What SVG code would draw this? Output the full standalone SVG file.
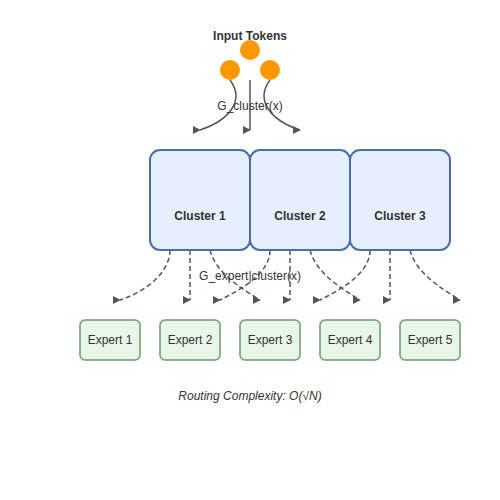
<svg xmlns="http://www.w3.org/2000/svg" width="500" height="500" viewBox="0 0 500 500">
<defs>
<marker id="arr" viewBox="0 0 10 10" refX="9" refY="5" markerWidth="8" markerHeight="8" markerUnits="userSpaceOnUse" orient="0">
<path d="M0,0 L10,5 L0,10 z" fill="#555"/>
</marker>
<style>
text{font-family:"Liberation Sans",Arial,sans-serif;font-size:12px;fill:#333;}
.bold{font-weight:bold;}
.tok{fill:#ff9800;}
.cl{fill:#e5effd;stroke:#4a6ea9;stroke-width:2;}
.ex{fill:#e8f5e9;stroke:#6b9b6e;stroke-width:1.5;}
.solid{fill:none;stroke:#555;stroke-width:1.5;marker-end:url(#arr);}
.dash{fill:none;stroke:#555;stroke-width:1.5;stroke-dasharray:5,3;marker-end:url(#arr);}
</style>
</defs>
<rect width="500" height="500" fill="#fff"/>
<g id="input-tokens">
<text class="bold" x="250" y="40" text-anchor="middle">Input Tokens</text>
<circle class="tok" cx="250" cy="50" r="10"/>
<circle class="tok" cx="230" cy="70" r="10"/>
<circle class="tok" cx="270" cy="70" r="10"/>
</g>
<g id="connectors">
<path class="solid" d="M230,80 C245,100 230,120 200,130"/>
<path class="solid" d="M250,80 L250,130"/>
<path class="solid" d="M270,80 C255,100 270,120 300,130"/>
<text x="250" y="110" text-anchor="middle">G_cluster(x)</text>
<path class="dash" d="M170,250 C170,270 150,290 120,300"/>
<path class="dash" d="M190,250 L190,300"/>
<path class="dash" d="M210,250 C215,270 235,285 260,300"/>
<path class="dash" d="M270,250 C270,270 250,285 220,300"/>
<path class="dash" d="M290,250 L290,300"/>
<path class="dash" d="M310,250 C315,270 335,285 360,300"/>
<path class="dash" d="M370,250 C370,270 350,285 320,300"/>
<path class="dash" d="M390,250 L390,300"/>
<path class="dash" d="M410,250 C415,270 435,285 460,300"/>
<text x="250" y="280" text-anchor="middle">G_expert|cluster(x)</text>
</g>
<g id="cluster1"><rect class="cl" x="150" y="150" width="100" height="100" rx="10"/><text class="bold" x="200" y="220" text-anchor="middle">Cluster 1</text></g>
<g id="cluster2"><rect class="cl" x="250" y="150" width="100" height="100" rx="10"/><text class="bold" x="300" y="220" text-anchor="middle">Cluster 2</text></g>
<g id="cluster3"><rect class="cl" x="350" y="150" width="100" height="100" rx="10"/><text class="bold" x="400" y="220" text-anchor="middle">Cluster 3</text></g>
<g id="expert1"><rect class="ex" x="80" y="320" width="60" height="40" rx="5"/><text x="110" y="344" text-anchor="middle">Expert 1</text></g>
<g id="expert2"><rect class="ex" x="160" y="320" width="60" height="40" rx="5"/><text x="190" y="344" text-anchor="middle">Expert 2</text></g>
<g id="expert3"><rect class="ex" x="240" y="320" width="60" height="40" rx="5"/><text x="270" y="344" text-anchor="middle">Expert 3</text></g>
<g id="expert4"><rect class="ex" x="320" y="320" width="60" height="40" rx="5"/><text x="350" y="344" text-anchor="middle">Expert 4</text></g>
<g id="expert5"><rect class="ex" x="400" y="320" width="60" height="40" rx="5"/><text x="430" y="344" text-anchor="middle">Expert 5</text></g>
<text x="250" y="400" text-anchor="middle" font-style="italic">Routing Complexity: O(√N)</text>
</svg>
